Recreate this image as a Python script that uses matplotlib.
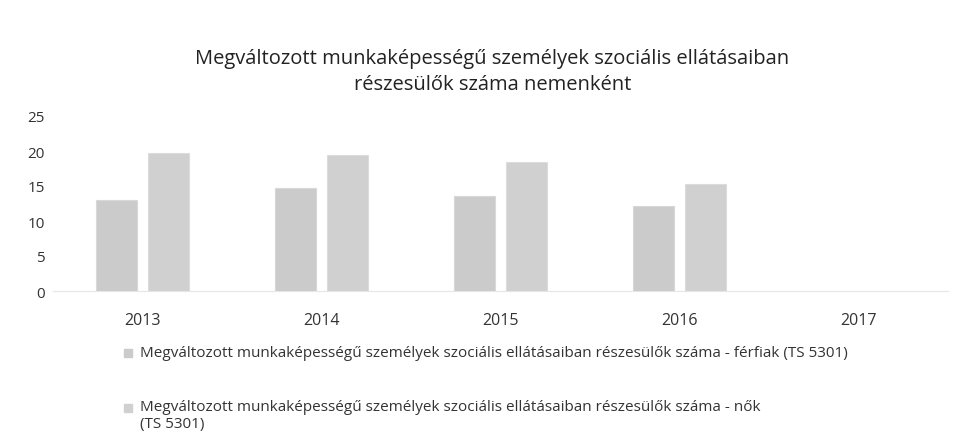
import matplotlib
matplotlib.use("Agg")
import matplotlib.pyplot as plt
import numpy as np

years = ["2013", "2014", "2015", "2016", "2017"]
ferfiak = [13.0, 14.7, 13.6, 12.1, np.nan]
nok = [19.7, 19.4, 18.4, 15.3, np.nan]
yticks = [0, 5, 10, 15, 20, 25]
title = "Megváltozott munkaképességű személyek szociális ellátásaiban\nrészesülők száma nemenként"
label_f = "Megváltozott munkaképességű személyek szociális ellátásaiban részesülők száma - férfiak (TS 5301)"
label_n = "Megváltozott munkaképességű személyek szociális ellátásaiban részesülők száma - nők\n(TS 5301)"

plt.rcParams['font.family'] = ['Open Sans', 'DejaVu Sans']

W, H = 956, 439
fig = plt.figure(figsize=(W/100, H/100), dpi=100)
ax = fig.add_axes([53/W, 1-292/H, 895/W, 175/H])

x = np.arange(len(years))
bw = 0.225
ax.bar(x - 0.145, ferfiak, width=bw, color="#cbcbcb", edgecolor="#d8d8d8", linewidth=0.8)
ax.bar(x + 0.145, nok, width=bw, color="#d0d0d0", edgecolor="#dcdcdc", linewidth=0.8)

ax.set_xlim(-0.5, len(years) - 0.5)
ax.set_ylim(0, 25)
ax.set_yticks(yticks)
ax.set_yticklabels([str(v) for v in yticks], fontsize=11, color="#333333")
ax.set_xticks(x)
ax.set_xticklabels(years, fontsize=11.5, color="#333333")
ax.tick_params(axis='x', length=0, pad=15)
ax.tick_params(axis='y', length=0, pad=6)
for s in ["top", "right", "left"]:
    ax.spines[s].set_visible(False)
ax.spines["bottom"].set_color("#e6e6e6")

fig.text(0.515, 1-72/H, title, ha="center", va="center", fontsize=14.5, color="#222222",
         linespacing=1.45)

fig.patches.append(plt.Rectangle((124/W, 1-358/H), 8/W, 8/H, transform=fig.transFigure,
                                 color="#cbcbcb"))
fig.text(140/W, 1-354/H, label_f, fontsize=11, va="center", color="#333333")
fig.patches.append(plt.Rectangle((124/W, 1-413/H), 8/W, 8/H, transform=fig.transFigure,
                                 color="#d0d0d0"))
fig.text(140/W, 1-400/H, label_n, fontsize=11, va="top", color="#333333",
         linespacing=1.2)

fig.savefig("out.png", dpi=100)
